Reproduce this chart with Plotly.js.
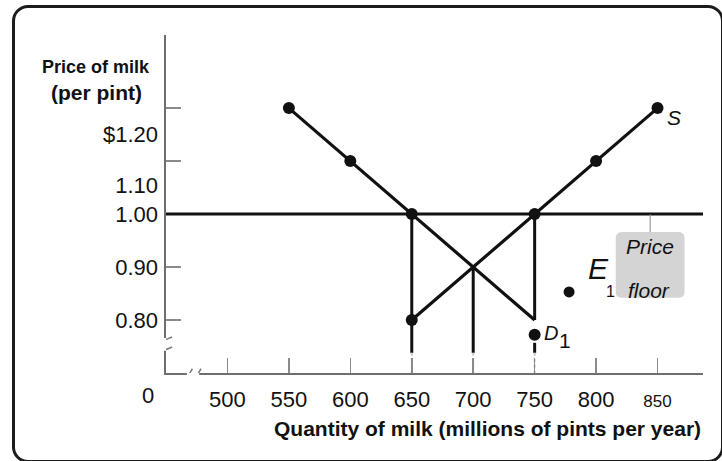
<!DOCTYPE html>
<html>
<head>
<meta charset="utf-8">
<script src="https://cdn.plot.ly/plotly-3.0.1.min.js"></script>
<style>
  html, body { margin: 0; padding: 0; background: #fff; }
  #wrap { position: relative; width: 722px; height: 461px; overflow: hidden; }
  #chart { position: absolute; left: 0; top: 0; width: 722px; height: 461px; }
  #frame { position: absolute; left: 12px; top: 5px; width: 712px; height: 458px;
           box-sizing: border-box; border: 3.5px solid #1c1c1c; border-radius: 16px;
           pointer-events: none; }
</style>
</head>
<body>
<div id="wrap"><div id="chart"></div><div id="frame"></div></div>
<script>
// ---- data ----
const demandQ = [550, 600, 650, 700, 750];
const demandP = [1.20, 1.10, 1.00, 0.90, 0.80];
const demandDotQ = [550, 600, 650];
const demandDotP = [1.20, 1.10, 1.00];

const supplyQ = [650, 700, 750, 800, 850];
const supplyP = [0.80, 0.90, 1.00, 1.10, 1.20];
const supplyDotQ = [650, 750, 800, 850];
const supplyDotP = [0.80, 1.00, 1.10, 1.20];

const floorPrice = 1.00;
const guideQ = [650, 700, 750];
const guideTopP = [1.00, 0.90, 1.00];
const guideLowP = 0.738;

const e1Q = [778];
const e1P = [0.853];
const d1Q = [750];
const d1P = [0.772];

const xTickVals = [500, 550, 600, 650, 700, 750, 800, 850];
const xTickText = ['500', '550', '600', '650', '700', '750', '800', '<span style="font-size:17px">850</span>'];
const yTickVals = [0.80, 0.90, 1.10, 1.20];
const yLabelText = ['0.80', '0.90', '1.00', '1.10', '$1.20'];
const yLabelPos = [0.80, 0.90, 1.00, 1.055, 1.151];

const xRange = [450, 887];
const yRange = [0.70, 1.338];

// ---- traces ----
const black = '#111';
const traces = [];

// price floor horizontal line
traces.push({x: xRange, y: [floorPrice, floorPrice], mode: 'lines',
  line: {color: black, width: 3}, hoverinfo: 'skip'});

// vertical guide lines
guideQ.forEach((q, i) => {
  let ys, xs;
  if (q === 750) {
    xs = [q, q, null, q, q];
    ys = [guideTopP[i], 0.80, null, 0.757, guideLowP];
  } else {
    xs = [q, q];
    ys = [guideTopP[i], guideLowP];
  }
  traces.push({x: xs, y: ys, mode: 'lines', line: {color: black, width: 3}, hoverinfo: 'skip'});
  traces.push({x: [q, q], y: [guideLowP, yRange[0]], mode: 'lines',
    line: {color: '#c8c8c8', width: 2, dash: 'dot'}, hoverinfo: 'skip'});
});

// pointer line to price floor box
traces.push({x: [844, 844], y: [floorPrice, 0.966], mode: 'lines',
  line: {color: '#888', width: 1}, hoverinfo: 'skip'});

// demand
traces.push({x: demandQ, y: demandP, mode: 'lines', line: {color: black, width: 3.2}, hoverinfo: 'skip'});
traces.push({x: demandDotQ, y: demandDotP, mode: 'markers', marker: {color: black, size: 12}, hoverinfo: 'skip'});
// supply
traces.push({x: supplyQ, y: supplyP, mode: 'lines', line: {color: black, width: 3.2}, hoverinfo: 'skip'});
traces.push({x: supplyDotQ, y: supplyDotP, mode: 'markers', marker: {color: black, size: 12}, hoverinfo: 'skip'});
// E1 and D1 points
traces.push({x: e1Q, y: e1P, mode: 'markers', marker: {color: black, size: 11}, hoverinfo: 'skip'});
traces.push({x: d1Q, y: d1P, mode: 'markers', marker: {color: black, size: 12}, hoverinfo: 'skip'});

// invisible trace for label axis
traces.push({x: [xRange[0]], y: [yRange[0]], yaxis: 'y2', mode: 'markers',
  marker: {opacity: 0}, hoverinfo: 'skip'});

const fontFam = '"Liberation Sans", Arial, sans-serif';

const layout = {
  width: 722, height: 461,
  margin: {l: 166, r: 19, t: 35, b: 88},
  paper_bgcolor: '#fff', plot_bgcolor: '#fff',
  showlegend: false,
  font: {family: fontFam, color: '#111', size: 21},
  xaxis: {
    range: xRange, showgrid: false, zeroline: false,
    showline: true, linecolor: '#6e6e6e', linewidth: 2,
    tickvals: xTickVals, ticktext: xTickText,
    ticks: 'inside', ticklen: 15, tickwidth: 1.5, tickcolor: '#8a8a8a',
    ticklabelstandoff: 6,
    tickfont: {size: 22, family: fontFam, color: '#111'}
  },
  yaxis: {
    range: yRange, showgrid: false, zeroline: false,
    showline: true, linecolor: '#6e6e6e', linewidth: 2,
    tickvals: yTickVals, showticklabels: false,
    ticks: 'inside', ticklen: 15, tickwidth: 1.5, tickcolor: '#8a8a8a'
  },
  yaxis2: {
    overlaying: 'y', side: 'left', range: yRange,
    showgrid: false, zeroline: false, showline: false, ticks: '',
    tickvals: yLabelPos, ticktext: yLabelText,
    ticklabelstandoff: 7,
    tickfont: {size: 22, family: fontFam, color: '#111'}
  },
  shapes: [
    // price floor box
    {type: 'path', xref: 'x', yref: 'y', layer: 'below',
     path: 'M 822,0.966 L 866,0.966 Q 872,0.966 872,0.955 L 872,0.852 Q 872,0.842 866,0.842 L 822,0.842 Q 816,0.842 816,0.852 L 816,0.955 Q 816,0.966 822,0.966 Z',
     fillcolor: '#d4d4d4', line: {width: 0}},
    // y-axis break
    {type: 'line', xref: 'paper', yref: 'y', x0: 0, x1: 0, y0: 0.742, y1: 0.766,
     line: {color: '#fff', width: 5}},
    {type: 'line', xref: 'x', yref: 'y', x0: 443.5, x1: 455, y0: 0.757, y1: 0.768,
     line: {color: '#7a7a7a', width: 1.5}},
    {type: 'line', xref: 'x', yref: 'y', x0: 443.5, x1: 455, y0: 0.738, y1: 0.749,
     line: {color: '#7a7a7a', width: 1.5}},
    // x-axis break
    {type: 'line', xref: 'x', yref: 'paper', x0: 467, x1: 477, y0: 0, y1: 0,
     line: {color: '#fff', width: 5}},
    {type: 'line', xref: 'x', yref: 'y', x0: 467, x1: 471.5, y0: 0.691, y1: 0.708,
     line: {color: '#7a7a7a', width: 1.5}},
    {type: 'line', xref: 'x', yref: 'y', x0: 474, x1: 478.5, y0: 0.691, y1: 0.708,
     line: {color: '#7a7a7a', width: 1.5}}
  ],
  annotations: [
    {text: '<b>Price of milk</b>', xref: 'paper', yref: 'paper', x: -0.130, y: 0.905,
     xanchor: 'center', yanchor: 'middle', showarrow: false, font: {size: 18, family: fontFam}},
    {text: '<b>(per pint)</b>', xref: 'paper', yref: 'paper', x: -0.130, y: 0.831,
     xanchor: 'center', yanchor: 'middle', showarrow: false, font: {size: 21, family: fontFam}},
    {text: '<b>Quantity of milk (millions of pints per year)</b>', xref: 'paper', yref: 'paper',
     x: 1.0, y: -0.163, xanchor: 'right', yanchor: 'middle', showarrow: false, font: {size: 21, family: fontFam}},
    {text: '0', xref: 'paper', yref: 'paper', x: -0.0335, y: -0.068, xanchor: 'center', yanchor: 'middle',
     showarrow: false, font: {size: 22, family: fontFam}},
    {text: '<i>S</i>', xref: 'x', yref: 'y', x: 863, y: 1.183, xanchor: 'center', yanchor: 'middle',
     showarrow: false, font: {size: 21, family: fontFam}},
    {text: '<i>D</i>', xref: 'x', yref: 'y', x: 763.5, y: 0.776, xanchor: 'center', yanchor: 'middle',
     showarrow: false, font: {size: 20, family: fontFam}},
    {text: '1', xref: 'x', yref: 'y', x: 775, y: 0.762, xanchor: 'center', yanchor: 'middle',
     showarrow: false, font: {size: 21, family: fontFam}},
    {text: '<i>E</i>', xref: 'x', yref: 'y', x: 802, y: 0.898, xanchor: 'center', yanchor: 'middle',
     showarrow: false, font: {size: 30, family: fontFam}},
    {text: '1', xref: 'x', yref: 'y', x: 811.5, y: 0.853, xanchor: 'center', yanchor: 'middle',
     showarrow: false, font: {size: 16, family: fontFam}},
    {text: '<i>Price</i>', xref: 'x', yref: 'y', x: 843.5, y: 0.938, xanchor: 'center', yanchor: 'middle',
     showarrow: false, font: {size: 21, family: fontFam}},
    {text: '<i>floor</i>', xref: 'x', yref: 'y', x: 842.7, y: 0.855, xanchor: 'center', yanchor: 'middle',
     showarrow: false, font: {size: 21, family: fontFam}}
  ]
};

Plotly.newPlot('chart', traces, layout, {displayModeBar: false, staticPlot: true});
</script>
</body>
</html>
